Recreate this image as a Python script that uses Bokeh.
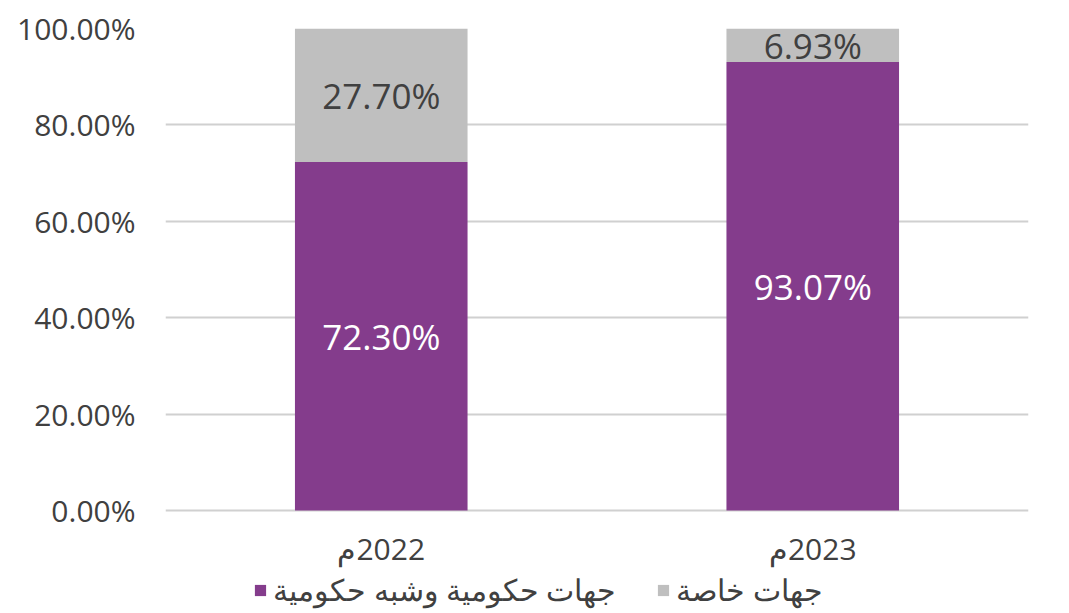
from bokeh.plotting import figure
from bokeh.models import (ColumnDataSource, FixedTicker, NumeralTickFormatter,
                          Legend, LegendItem, Range1d)
from bokeh.core.properties import value
from bokeh.embed import file_html
from bokeh.resources import INLINE

# ---- data ----
years = ["\u200f2022م", "\u200f2023م"]
gov_pct = [72.30, 93.07]        # جهات حكومية وشبه حكومية
private_pct = [27.70, 6.93]     # جهات خاصة
gov_labels = ["72.30%", "93.07%"]
private_labels = ["27.70%", "6.93%"]
series_names = ["جهات حكومية وشبه حكومية", "جهات خاصة"]
y_ticks = [0, 0.2, 0.4, 0.6, 0.8, 1.0]

PURPLE = "#843C8C"
GRAY = "#BFBFBF"
TXT = "#404040"
FONT = "Open Sans"

# layout: plot area 0..1 spans 482px; the frame extends 103px below 0
PX_PER_UNIT = 482.0
Y_START = -103 / PX_PER_UNIT
CAT_LABEL_Y = -38 / PX_PER_UNIT

gov = [v / 100 for v in gov_pct]
priv = [v / 100 for v in private_pct]
top = [g + p for g, p in zip(gov, priv)]

src = ColumnDataSource(dict(
    x=years, gov=gov, priv=priv, top=top,
    gov_mid=[g / 2 for g in gov],
    priv_mid=[g + p / 2 for g, p in zip(gov, priv)],
    gov_lab=gov_labels, priv_lab=private_labels,
    cat_y=[CAT_LABEL_Y] * len(years),
))

p = figure(x_range=years, y_range=Range1d(Y_START, 1.0), width=1069, height=613,
           output_backend="svg", toolbar_location=None,
           min_border_left=165, min_border_right=41, min_border_top=28,
           min_border_bottom=0)
p.outline_line_color = None
p.background_fill_color = "white"
p.border_fill_color = "white"
p.xaxis.visible = False

r_gov = p.vbar(x="x", bottom=0, top="gov", width=0.4, source=src,
               fill_color=PURPLE, line_color=None)
r_priv = p.vbar(x="x", bottom="gov", top="top", width=0.4, source=src,
                fill_color=GRAY, line_color=None)

p.text(x="x", y="gov_mid", text="gov_lab", source=src, text_color="white",
       text_font=value(FONT), text_font_size="35px", text_align="center",
       text_baseline="middle")
p.text(x="x", y="priv_mid", text="priv_lab", source=src, text_color=TXT,
       text_font=value(FONT), text_font_size="35px", text_align="center",
       text_baseline="middle")
# category labels
p.text(x="x", y="cat_y", text="x", source=src, text_color=TXT,
       text_font=value(FONT), text_font_size="30px", text_align="center",
       text_baseline="middle")

# y axis
p.yaxis.ticker = FixedTicker(ticks=y_ticks)
p.yaxis.formatter = NumeralTickFormatter(format="0.00%")
p.yaxis.axis_line_color = None
p.yaxis.major_tick_line_color = None
p.yaxis.minor_tick_line_color = None
p.yaxis.major_label_text_font = FONT
p.yaxis.major_label_text_font_size = "30px"
p.yaxis.major_label_text_color = TXT
p.yaxis.major_label_standoff = 24

p.xgrid.grid_line_color = None
p.ygrid.ticker = FixedTicker(ticks=y_ticks)
p.ygrid.grid_line_color = "#D0D0D0"
p.ygrid.grid_line_width = 2
p.ygrid.level = "underlay"

legend = Legend(items=[LegendItem(label=series_names[0], renderers=[r_gov]),
                       LegendItem(label=series_names[1], renderers=[r_priv])],
                orientation="horizontal", location=(88, 3),
                label_text_font=FONT, label_text_font_size="30px",
                label_text_color=TXT, glyph_width=14, glyph_height=14,
                label_standoff=6, spacing=40, padding=0, margin=0,
                border_line_color=None, background_fill_alpha=0)
p.add_layout(legend, "center")

open("out.html", "w").write(file_html(p, INLINE))
